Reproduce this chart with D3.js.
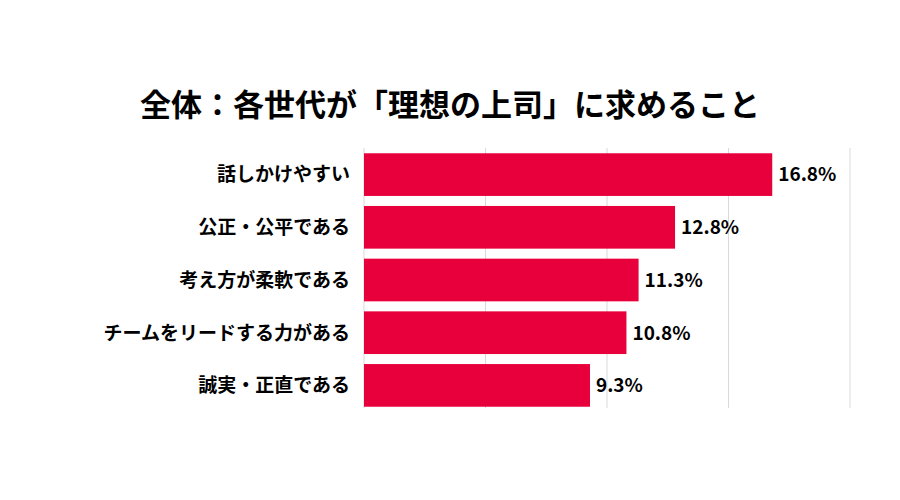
<!DOCTYPE html>
<html><head><meta charset="utf-8">
<script src="https://cdn.jsdelivr.net/npm/d3@7"></script>
<style>body{margin:0;background:#fff}</style>
</head><body>
<svg id="chart" width="900" height="500"></svg>
<script>
var categories = ["話しかけやすい", "公正・公平である", "考え方が柔軟である", "チームをリードする力がある", "誠実・正直である"]
var values = [16.8, 12.8, 11.3, 10.8, 9.3]
var gridTicks = [0, 5, 10, 15, 20]

var font = "'Noto Sans CJK JP', 'Noto Sans', sans-serif"
var svg = d3.select("#chart")

var xScale = d3.scaleLinear().domain([0, 20]).range([364, 850])
var yScale = d3.scaleBand().domain(categories).range([148, 412]).paddingInner(0.19).paddingOuter(0.1)

svg.append("text")
    .attr("x", 450).attr("y", 116)
    .attr("text-anchor", "middle")
    .style("font-family", font).style("font-weight", "bold").style("font-size", "31px")
    .text("全体：各世代が「理想の上司」に求めること")

svg.selectAll("line.grid")
    .data(gridTicks)
    .enter().append("line")
    .attr("x1", d => xScale(d)).attr("x2", d => xScale(d))
    .attr("y1", 148).attr("y2", 408)
    .attr("stroke", "#d9d9d9").attr("stroke-width", 1)

svg.selectAll("rect")
    .data(values)
    .enter().append("rect")
    .attr("x", xScale(0))
    .attr("y", (d, i) => yScale(categories[i]))
    .attr("width", d => xScale(d) - xScale(0))
    .attr("height", yScale.bandwidth())
    .attr("fill", "#E8003D")

svg.selectAll("text.val")
    .data(values)
    .enter().append("text")
    .attr("x", d => xScale(d) + 6)
    .attr("y", (d, i) => yScale(categories[i]) + yScale.bandwidth() / 2)
    .attr("dy", "0.36em")
    .style("font-family", font).style("font-weight", "bold").style("font-size", "19px")
    .text(d => d.toFixed(1) + "%")

svg.selectAll("text.cat")
    .data(categories)
    .enter().append("text")
    .attr("x", 350)
    .attr("y", d => yScale(d) + yScale.bandwidth() / 2)
    .attr("dy", "0.36em")
    .attr("text-anchor", "end")
    .style("font-family", font).style("font-weight", "bold").style("font-size", "19px")
    .text(d => d)
</script>
</body></html>
